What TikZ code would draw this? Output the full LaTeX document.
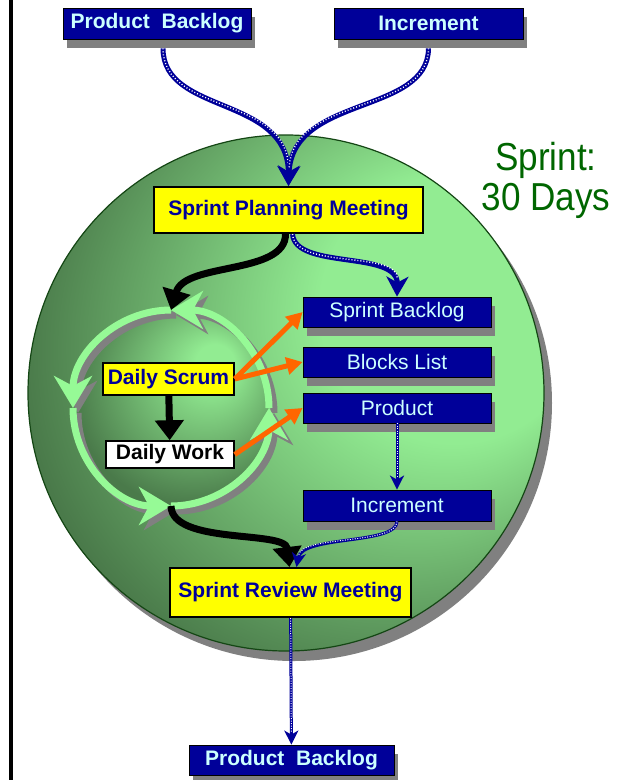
\documentclass[tikz,border=0pt]{standalone}
\usepackage{fontspec}
\setmainfont{Liberation Sans}
\newfontfamily\sprintfont[FakeStretch=0.9]{Liberation Sans}
\usepackage{tikz}
\usetikzlibrary{arrows.meta,shadows}
\definecolor{boxnavy}{RGB}{0,0,153}
\definecolor{boxtext}{RGB}{204,255,255}
\definecolor{flowblue}{RGB}{0,0,153}
\definecolor{shadowgray}{RGB}{128,128,128}
\definecolor{meetyellow}{RGB}{255,255,0}
\definecolor{pushorange}{RGB}{255,102,0}
\definecolor{ringgreen}{RGB}{150,250,150}
\definecolor{ballhi}{RGB}{146,236,146}
\definecolor{balllo}{RGB}{74,122,74}
\definecolor{balledge}{RGB}{20,70,20}
\definecolor{sprintgreen}{RGB}{0,102,0}
\pgfdeclareradialshading{sprintball}{\pgfpoint{22bp}{11bp}}{%
  color(0bp)=(ballhi); color(13bp)=(ballhi); color(33bp)=(balllo); color(50bp)=(balllo)}
\pgfdeclareradialshading{scrumcore}{\pgfpoint{12.5bp}{12.5bp}}{%
  color(0bp)=(ballhi); color(5bp)=(ballhi); color(30bp)=(balllo); color(50bp)=(balllo)}
\newcommand\boxbold{\fontsize{21}{24}\selectfont\bfseries}
\newcommand\boxplain{\fontsize{21}{24}\selectfont}
\tikzset {>=Stealth}
\tikzset{
  navybox/.style={draw=black, line width=0.8pt, fill=boxnavy, text=boxtext,
    inner sep=0pt, drop shadow={shadow xshift=4pt, shadow yshift=-8.5pt,
    fill=shadowgray, opacity=1}},
  meetbox/.style={draw=black, line width=2pt, fill=meetyellow, text=boxnavy,
    inner sep=0pt, font=\boxbold},
  daybox/.style={draw=black, line width=1.5pt, inner sep=0pt, font=\boxbold},
  flow/.style={draw=flowblue, line width=5pt, -{Stealth[length=20pt,width=22pt,inset=6pt]},
    postaction={draw=white, line width=1.4pt, dash pattern=on 1pt off 2pt, -, shorten >=18pt}},
  thinflow/.style={draw=flowblue, line width=3pt, -{Stealth[length=14pt,width=14pt,inset=4pt]},
    postaction={draw=white, line width=1pt, dash pattern=on 1pt off 1.5pt, -, shorten >=12pt}},
  daystep/.style={line width=7pt, -{Triangle[length=20pt,width=28pt]}},
  push/.style={draw=pushorange, line width=5pt, -{Triangle[length=16pt,width=17pt]}},
  cyclearc/.style={draw=ringgreen, line width=7pt, -{Stealth[length=32pt,width=38pt,inset=10pt]}},
  cycleshade/.style={cyclearc, draw=shadowgray}
}
\begin{document}
\begin{tikzpicture}[x=1pt,y=-1pt]
\useasboundingbox (0,0) rectangle (631,780);
\draw[line width=4pt] (10.5,0) -- (10.5,780);
% the sprint
\fill[shadowgray] (294,403) circle (258);
\shade[shading=sprintball] (286,393) circle (258);
\draw[balledge, line width=1.2pt] (286,393) circle (258);
% daily cycle
\coordinate (ringc) at (171,408);
\coordinate (ringtop) at (171,310);
\coordinate (ringbot) at (171,506);
\shade[shading=scrumcore] (ringc) circle (98);
\foreach \a in {0,-90,-180,-270}
  \draw[cycleshade] ([shift={(5,5)}]ringc) ++(\a:98) arc[start angle=\a, end angle=\a-90, radius=98];
\foreach \a in {0,-90,-180,-270}
  \draw[cyclearc] (ringc) ++(\a:98) arc[start angle=\a, end angle=\a-90, radius=98];
% boxes
\node[navybox, font=\boxbold, minimum width=188pt, minimum height=31pt] (pbtop) at (157,23.5) {Product\ \ Backlog};
\node[navybox, font=\boxbold, minimum width=189pt, minimum height=31pt] (inctop) at (428.5,23.5) {Increment};
\node[meetbox, minimum width=269pt, minimum height=46pt] (planning) at (288.5,210) {Sprint Planning Meeting};
\node[navybox, font=\boxplain, minimum width=188pt, minimum height=30pt] (sbl) at (397,312) {Sprint Backlog};
\node[navybox, font=\boxplain, minimum width=188pt, minimum height=30pt] (blocks) at (397,362) {Blocks List};
\node[navybox, font=\boxplain, minimum width=188pt, minimum height=30pt] (product) at (397,408) {Product};
\node[navybox, font=\boxplain, minimum width=188pt, minimum height=31pt] (incmid) at (397,505.5) {Increment};
\node[daybox, fill=meetyellow, text=boxnavy, minimum width=131pt, minimum height=32pt] (scrum) at (168.5,379) {Daily Scrum};
\node[daybox, fill=white, minimum width=128pt, minimum height=27pt] (work) at (170,454.5) {Daily Work};
\node[meetbox, minimum width=241pt, minimum height=49pt] (review) at (290.5,592.5) {Sprint Review Meeting};
\node[navybox, font=\boxbold, minimum width=205pt, minimum height=30pt] (pbbot) at (291.5,760) {Product\ \ Backlog};
\node[text=sprintgreen, font=\sprintfont\fontsize{39}{40}\selectfont, align=center,
  anchor=north, inner sep=0pt] (sprintlen) at (546,142) {Sprint:\\30 Days};
% flows
\draw[flow] ([shift={(6,9)}]pbtop.south) .. controls (163,115) and (288,95) .. (planning.north);
\draw[flow] ([yshift=-9pt]inctop.south) .. controls (428,115) and (292,95) .. (planning.north);
\draw[flow] ([xshift=4pt]planning.south) .. controls (295,270) and (398,250) .. (sbl.north);
\draw[daystep] ([xshift=-3pt]planning.south) .. controls (286,275) and (185,262) .. (ringtop);
\draw[daystep] (scrum) -- (work);
\draw[push] (scrum.east) -- (sbl.west);
\draw[push] (scrum.east) -- (blocks.west);
\draw[push] (work.east) -- (product.west);
\draw[thinflow] (product) -- (incmid);
\draw[daystep] (ringbot) .. controls (172,545) and (285,530) .. ([xshift=-1pt]review.north);
\draw[thinflow] (incmid.south) .. controls (397,545) and (302,535) .. ([xshift=6pt]review.north);
\draw[thinflow] (review) -- (pbbot);
\end{tikzpicture}
\end{document}
